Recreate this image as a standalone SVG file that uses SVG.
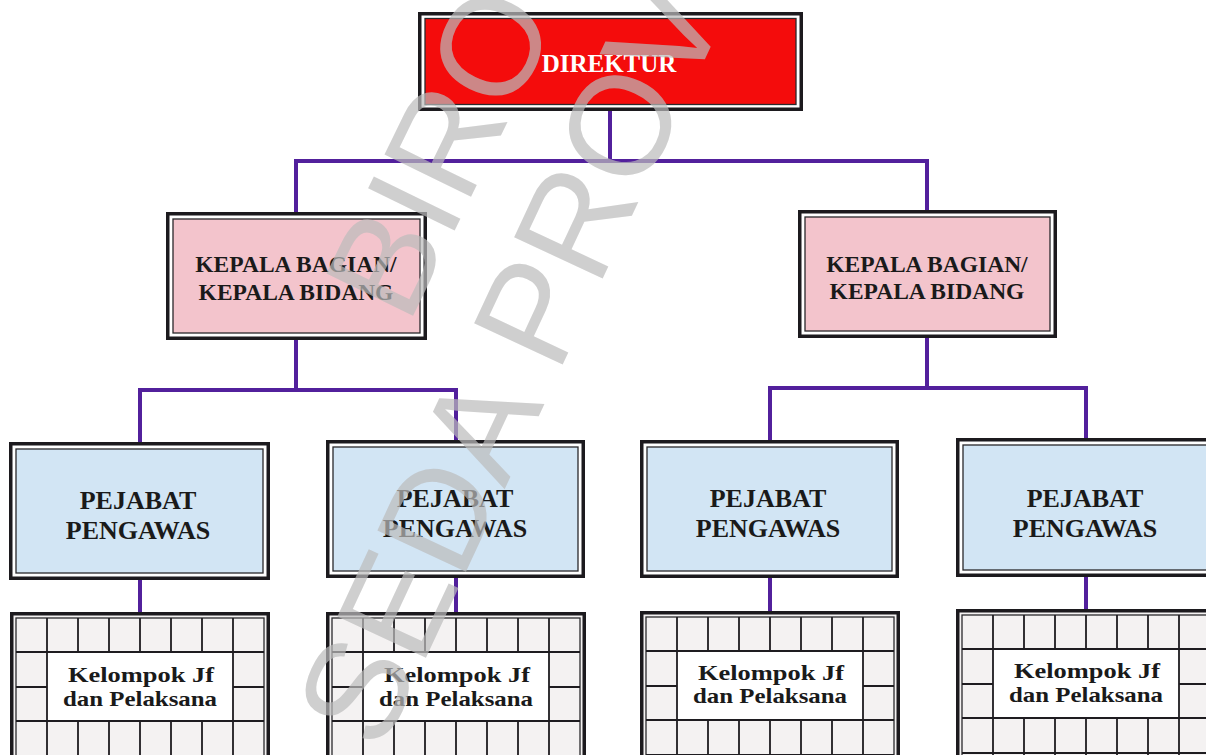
<svg xmlns="http://www.w3.org/2000/svg" width="1206" height="755" viewBox="0 0 1206 755">
<style>
.outer{fill:#ffffff;stroke:#1c1a1e;stroke-width:3.5}
.inner{stroke:#2a282c;stroke-width:1.3}
.red{fill:#f40c0c}
.pink{fill:#f3c4cc}
.blue{fill:#d2e5f4}
.conn{fill:none;stroke:#52209c;stroke-width:4;stroke-linecap:square}
.t{font-family:"Liberation Serif","Times New Roman",serif;font-weight:bold;text-anchor:middle;fill:#1a1a1a}
.tw{fill:#ffffff}
.tk{font-family:"Liberation Serif","Times New Roman",serif;font-weight:bold;text-anchor:middle;fill:#1a1a1a;font-size:21px}
.grid{stroke:#1e1c20;stroke-width:1.8;fill:none}
.wm{font-family:"Liberation Sans",Arial,sans-serif;fill:#bcbcbc;opacity:0.7}
</style>
<defs>
<g id="kgrid">
<rect x="1.75" y="1.75" width="256.5" height="170" fill="#f4f2f2" stroke="#1c1a1e" stroke-width="3.5"/>
<rect x="6" y="6" width="248" height="170" fill="none" stroke="#2a282c" stroke-width="1.3"/>
<rect x="37" y="40" width="186" height="69" fill="#ffffff"/>
<path class="grid" d="M6 40H254M6 109H254M6 144H254M6 75H37M223 75H254M37 6V40M68 6V40M99 6V40M130 6V40M161 6V40M192 6V40M223 6V40M37 40V109M223 40V109M37 109V175M68 109V175M99 109V175M130 109V175M161 109V175M192 109V175M223 109V175"/>
</g>
</defs>
<g id="connectors">
<path class="conn" d="M610 111V161M296 161H927M296 161V212M927 161V210"/>
<path class="conn" d="M296 340V390M140 390H456M140 390V442M456 390V440"/>
<path class="conn" d="M927 338V388M770 388H1086M770 388V440M1086 388V438"/>
<path class="conn" d="M140 580V612M456 578V612M770 578V612M1086 577V610"/>
</g>
<g id="direktur">
<rect class="outer" x="419.75" y="13.75" width="381.5" height="95.5"/>
<rect class="inner red" x="425" y="18.5" width="371" height="86"/>
<text class="t tw" x="609" y="72" font-size="25">DIREKTUR</text>
</g>
<g id="kepala-1">
<rect class="outer" x="167.75" y="213.75" width="257.5" height="124.5"/>
<rect class="inner pink" x="173" y="219" width="247" height="114"/>
<text class="t" x="296" y="272" font-size="23.5">KEPALA BAGIAN/</text>
<text class="t" x="296" y="300" font-size="23.5">KEPALA BIDANG</text>
</g>
<g id="kepala-2">
<rect class="outer" x="799.75" y="211.75" width="255.5" height="124.5"/>
<rect class="inner pink" x="805" y="217" width="245" height="114"/>
<text class="t" x="927" y="272" font-size="23.5">KEPALA BAGIAN/</text>
<text class="t" x="927" y="299" font-size="23.5">KEPALA BIDANG</text>
</g>
<g id="pejabat-1">
<rect class="outer" x="10.75" y="443.75" width="257.5" height="134.5"/>
<rect class="inner blue" x="16" y="449" width="247" height="124"/>
<text class="t" x="138" y="509" font-size="26">PEJABAT</text>
<text class="t" x="138" y="539" font-size="26">PENGAWAS</text>
</g>
<g id="pejabat-2">
<rect class="outer" x="327.75" y="441.75" width="255.5" height="134.5"/>
<rect class="inner blue" x="333" y="447" width="245" height="124"/>
<text class="t" x="455" y="507" font-size="26">PEJABAT</text>
<text class="t" x="455" y="537" font-size="26">PENGAWAS</text>
</g>
<g id="pejabat-3">
<rect class="outer" x="641.75" y="441.75" width="255.5" height="134.5"/>
<rect class="inner blue" x="647" y="447" width="245" height="124"/>
<text class="t" x="768" y="507" font-size="26">PEJABAT</text>
<text class="t" x="768" y="537" font-size="26">PENGAWAS</text>
</g>
<g id="pejabat-4">
<rect class="outer" x="957.75" y="439.75" width="257.5" height="135.5"/>
<rect class="inner blue" x="963" y="445" width="247" height="125"/>
<text class="t" x="1085" y="507" font-size="26">PEJABAT</text>
<text class="t" x="1085" y="537" font-size="26">PENGAWAS</text>
</g>
<g id="kelompok-1">
<use href="#kgrid" x="10" y="612"/>
<text class="tk" x="141" y="682" textLength="146" lengthAdjust="spacingAndGlyphs">Kelompok Jf</text>
<text class="tk" x="140" y="706" textLength="154" lengthAdjust="spacingAndGlyphs">dan Pelaksana</text>
</g>
<g id="kelompok-2">
<use href="#kgrid" x="326" y="612"/>
<text class="tk" x="457" y="682" textLength="146" lengthAdjust="spacingAndGlyphs">Kelompok Jf</text>
<text class="tk" x="456" y="706" textLength="154" lengthAdjust="spacingAndGlyphs">dan Pelaksana</text>
</g>
<g id="kelompok-3">
<use href="#kgrid" x="640" y="611"/>
<text class="tk" x="771" y="680" textLength="146" lengthAdjust="spacingAndGlyphs">Kelompok Jf</text>
<text class="tk" x="770" y="703" textLength="154" lengthAdjust="spacingAndGlyphs">dan Pelaksana</text>
</g>
<g id="kelompok-4">
<use href="#kgrid" x="956" y="609"/>
<text class="tk" x="1087" y="678" textLength="146" lengthAdjust="spacingAndGlyphs">Kelompok Jf</text>
<text class="tk" x="1086" y="702" textLength="154" lengthAdjust="spacingAndGlyphs">dan Pelaksana</text>
</g>
<g id="watermark">
<text class="wm" font-size="140" transform="translate(408 326) rotate(-64)">BIRO</text>
<text class="wm" font-size="142" transform="translate(381 754) rotate(-65)">SEDA PROV</text>
</g>
</svg>
